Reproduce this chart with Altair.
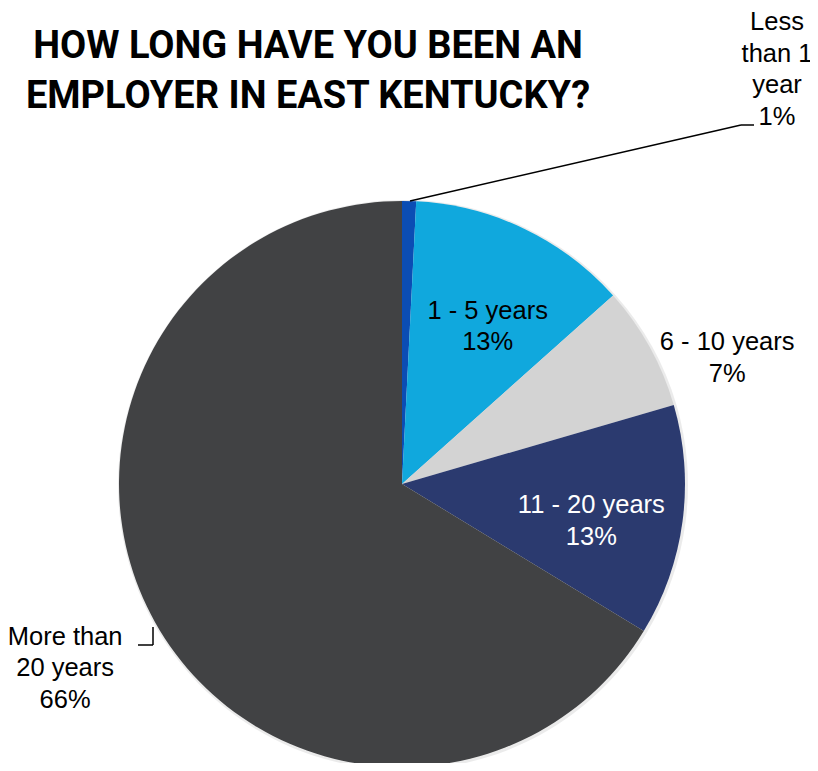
import altair as alt
import pandas as pd

# ---- data ----
categories = ["Less than 1 year", "1 - 5 years", "6 - 10 years", "11 - 20 years", "More than 20 years"]
values = [0.8, 12.6, 7.1, 13.2, 66.3]
wrapped_names = ["Less\nthan 1\nyear", "1 - 5 years", "6 - 10 years", "11 - 20 years", "More than\n20 years"]
colors = ["#0B4DB4", "#10A8DD", "#D3D3D3", "#2B3A6F", "#414244"]
title_lines = ["HOW LONG HAVE YOU BEEN AN", "EMPLOYER IN EAST KENTUCKY?"]

df = pd.DataFrame({
    "cat": categories,
    "value": values,
    "idx": list(range(len(categories))),
    "label": [f"{n}\n{round(v)}%" for n, v in zip(wrapped_names, values)],
})

CX, CY, R = 394, 476, 283
FONT = "Liberation Sans"

base = alt.Chart(df)

shadow = base.mark_arc(outerRadius=R + 2, stroke=None, color="#000000", opacity=0.08).encode(
    theta=alt.Theta("value:Q", stack=True),
    order=alt.Order("idx:Q", sort="ascending"),
    x=alt.value(CX + 1),
    y=alt.value(CY + 1),
)

pie = base.mark_arc(outerRadius=R, stroke=None).encode(
    theta=alt.Theta("value:Q", stack=True),
    order=alt.Order("idx:Q", sort="ascending"),
    color=alt.Color("cat:N", scale=alt.Scale(domain=categories, range=colors), legend=None),
    x=alt.value(CX),
    y=alt.value(CY),
)

# label placement styles: (radius, dx, dy, text colour)
label_style = {
    "Less than 1 year": (320, 367, -142, "#000000"),
    "1 - 5 years": (180, 8, -11, "#000000"),
    "6 - 10 years": (350, 19, 28, "#000000"),
    "11 - 20 years": (192, -1, -4, "#FFFFFF"),
    "More than 20 years": (383, -3, -35, "#000000"),
}

label_layers = []
for c in categories:
    r, dx, dy, col = label_style[c]
    label_layers.append(
        base.mark_text(
            radius=r, dx=dx, dy=dy, font=FONT, fontSize=25.5, lineBreak="\n",
            lineHeight=31.5, align="center", baseline="middle", color=col,
        ).encode(
            theta=alt.Theta("value:Q", stack=True),
            order=alt.Order("idx:Q", sort="ascending"),
            text=alt.condition(f"datum.cat == '{c}'", alt.Text("label:N"), alt.value("")),
            x=alt.value(CX),
            y=alt.value(CY),
        )
    )

one = alt.Chart(pd.DataFrame({"a": [0]}))

leaders = [
    one.mark_rule(color="#000000", strokeWidth=1.5).encode(
        x=alt.value(402), y=alt.value(193), x2=alt.value(733), y2=alt.value(117)),
    one.mark_rule(color="#000000", strokeWidth=1.5).encode(
        x=alt.value(733), y=alt.value(117), x2=alt.value(746), y2=alt.value(117)),
    one.mark_rule(color="#000000", strokeWidth=1.5).encode(
        x=alt.value(130), y=alt.value(637), x2=alt.value(145), y2=alt.value(637)),
    one.mark_rule(color="#000000", strokeWidth=1.5).encode(
        x=alt.value(145), y=alt.value(637), x2=alt.value(145), y2=alt.value(619)),
]

title = one.mark_text(
    font="Roboto", fontSize=38, fontWeight="bold", align="center",
    baseline="middle", lineHeight=50, color="#000000",
).encode(x=alt.value(300), y=alt.value(39), text=alt.value(title_lines))

chart = alt.layer(shadow, pie, *label_layers, *leaders, title).properties(
    width=802, height=755, autosize=alt.AutoSizeParams(type="none"), padding=0,
).configure_view(stroke=None)

chart.save("out.html", embed_options={"renderer": "svg", "actions": False})
